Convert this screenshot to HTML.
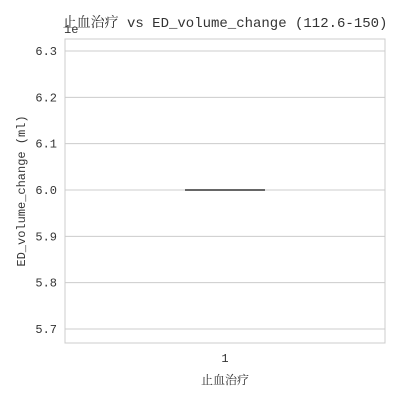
<!DOCTYPE html>
<html><head><meta charset="utf-8"><style>
body{margin:0;background:#fff}
svg text{font-family:"Liberation Mono","Noto Serif CJK SC",monospace;fill:#333}
</style></head><body>
<svg width="400" height="400">
<g id="grid"></g>
<rect x="65" y="39" width="320" height="304" fill="none" stroke="#ccc"/>
<text x="225" y="27" font-size="14" text-anchor="middle">止血治疗 vs ED_volume_change (112.6-150)</text>
<text x="64" y="33" font-size="12">1e</text>
<text x="225" y="384" font-size="12" text-anchor="middle">止血治疗</text>
<text transform="translate(25,191) rotate(-90)" font-size="12" text-anchor="middle">ED_volume_change (ml)</text>
<g id="marks"></g>
</svg>
<script>
const ticks=[5.7,5.8,5.9,6.0,6.1,6.2,6.3];
const categories=["1"];
const medians=[6.0];
const y=v=>190-(v-6.0)*463.3;
const x=i=>225+i*160;
const ns="http://www.w3.org/2000/svg";
const g=document.getElementById('grid');
ticks.forEach(t=>{
 const l=document.createElementNS(ns,'line');
 l.setAttribute('x1',65);l.setAttribute('x2',385);l.setAttribute('y1',y(t));l.setAttribute('y2',y(t));l.setAttribute('stroke','#ccc');
 
 
 g.appendChild(l);
 const tx=document.createElementNS(ns,'text');
 tx.setAttribute('x',57);tx.setAttribute('y',y(t)+4);tx.setAttribute('font-size',12);tx.setAttribute('text-anchor','end');
 tx.textContent=t.toFixed(1);
 
 
 g.appendChild(tx);
});
const m=document.getElementById('marks');
categories.forEach((c,i)=>{
 const l=document.createElementNS(ns,'line');
 l.setAttribute('x1',x(i)-40);l.setAttribute('x2',x(i)+40);l.setAttribute('y1',y(medians[i]));l.setAttribute('y2',y(medians[i]));
 l.setAttribute('stroke','#666');l.setAttribute('stroke-width',2);
 
 
 m.appendChild(l);
 const tx=document.createElementNS(ns,'text');
 tx.setAttribute('x',x(i));tx.setAttribute('y',362);tx.setAttribute('font-size',12);tx.setAttribute('text-anchor','middle');
 tx.textContent=c;
 
 
 m.appendChild(tx);
});
</script>
</body></html>
